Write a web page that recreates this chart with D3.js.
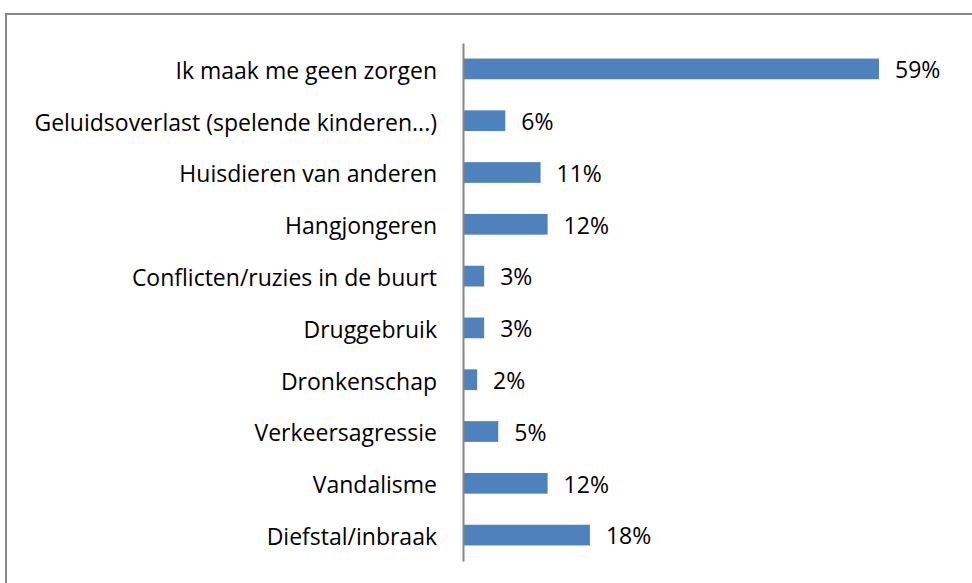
<!DOCTYPE html>
<html><head><meta charset="utf-8">
<script src="https://cdn.jsdelivr.net/npm/d3@7"></script>
<style>body{margin:0;background:#fff;} svg{display:block;}</style>
</head><body>
<svg id="chart" width="972" height="583"></svg>
<script>
const categories = ["Ik maak me geen zorgen","Geluidsoverlast (spelende kinderen...)","Huisdieren van anderen","Hangjongeren","Conflicten/ruzies in de buurt","Druggebruik","Dronkenschap","Verkeersagressie","Vandalisme","Diefstal/inbraak"];
const values = [59,6,11,12,3,3,2,5,12,18];

const svg = d3.select("#chart");
const font = "'Open Sans', sans-serif";
const fs = 23;

svg.append("rect").attr("x",6).attr("y",14).attr("width",980).attr("height",600)
  .attr("fill","none").attr("stroke","#868686").attr("stroke-width",2);

const x0 = 463;
const x = d3.scaleLinear().domain([0,59]).range([x0,879]);
const y = d3.scaleBand().domain(categories).range([43,561]).paddingInner(0.6).paddingOuter(0.3);

svg.selectAll("rect.bar").data(values).enter().append("rect").attr("class","bar")
  .attr("x",x(0)).attr("y",(d,i)=>y(categories[i]))
  .attr("width",d=>x(d)-x(0)).attr("height",y.bandwidth()).attr("fill","#4F81BD");

svg.selectAll("text.val").data(values).enter().append("text").attr("class","val")
  .attr("x",d=>x(d)+16).attr("y",(d,i)=>y(categories[i])+y.bandwidth()/2)
  .attr("dy","0.4em").attr("font-family",font).attr("font-size",fs).attr("fill","#000")
  .text(d=>d+"%");

const axis = d3.axisLeft(y).tickSize(0).tickPadding(26);
const g = svg.append("g").attr("transform",`translate(${x0},0)`).call(axis);
g.select(".domain").attr("stroke","#868686").attr("stroke-width",2);
g.selectAll("text").attr("font-family",font).attr("font-size",fs).attr("fill","#000").attr("dy","0.43em");
</script>
</body></html>
